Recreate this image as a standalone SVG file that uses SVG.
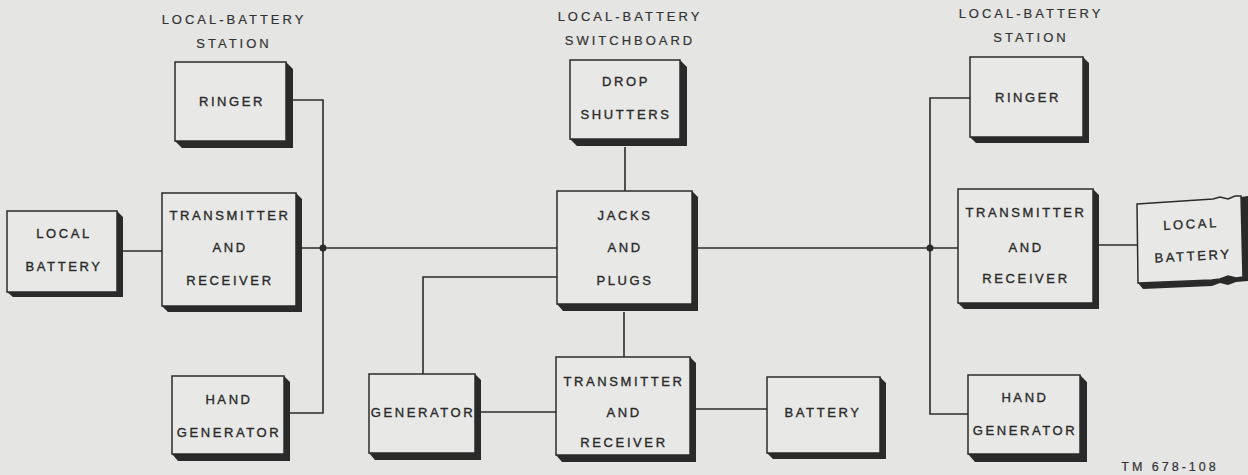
<svg xmlns="http://www.w3.org/2000/svg" width="1248" height="475" viewBox="0 0 1248 475">
<style>
.bg{fill:#e5e5e3}
.box{fill:#e8e8e6;stroke:#2b2b2b;stroke-width:1.5}
.sh{fill:#2a2a2a}
.t{font-family:"Liberation Sans",Arial,sans-serif;font-size:13px;letter-spacing:2.6px;fill:#2a2a2a;stroke:#2a2a2a;stroke-width:0.35px;text-anchor:middle;dominant-baseline:central}
.h{font-family:"Liberation Sans",Arial,sans-serif;font-size:13px;letter-spacing:3px;fill:#333;stroke:#333;stroke-width:0.2px;text-anchor:middle;dominant-baseline:central}
.w{fill:none;stroke:#2b2b2b;stroke-width:1.6}
</style>
<rect class="bg" x="0" y="0" width="1248" height="475"/>
<g id="titles">
<text class="h" x="234" y="19">LOCAL-BATTERY</text>
<text class="h" x="234" y="43">STATION</text>
<text class="h" x="630" y="16">LOCAL-BATTERY</text>
<text class="h" x="630" y="40">SWITCHBOARD</text>
<text class="h" x="1031" y="13">LOCAL-BATTERY</text>
<text class="h" x="1031" y="37">STATION</text>
<text class="h" x="1170" y="467" style="font-size:12.5px">TM 678-108</text>
</g>
<g id="connectors">
<path class="w" d="M123 251 H162"/>
<path class="w" d="M293 100 H323 V413 H290"/>
<path class="w" d="M302 248 H557"/>
<path class="w" d="M557 277 H423 V374"/>
<path class="w" d="M481 412 H556"/>
<path class="w" d="M696 409 H767"/>
<path class="w" d="M625 147 V191"/>
<path class="w" d="M624 312 V357"/>
<path class="w" d="M698 248 H958"/>
<path class="w" d="M970 98 H930 V414 H968"/>
<path class="w" d="M1098 245 H1137"/>
<circle cx="323" cy="248" r="3.5" fill="#2b2b2b"/>
<circle cx="930" cy="248" r="3.5" fill="#2b2b2b"/>
</g>
<g id="l-ringer">
<polygon class="sh" points="286,62 293,69 293,148 182,148 175,141 286,141"/>
<rect class="box" x="175" y="62" width="111" height="79"/>
<text class="t" x="232" y="101">RINGER</text>
</g>
<g id="l-transmitter">
<polygon class="sh" points="296,193 302,199 302,312 168,312 162,306 296,306"/>
<rect class="box" x="162" y="193" width="134" height="113"/>
<text class="t" x="230" y="215">TRANSMITTER</text>
<text class="t" x="230" y="247">AND</text>
<text class="t" x="230" y="280">RECEIVER</text>
</g>
<g id="l-battery">
<polygon class="sh" points="117,211 123,217 123,297 13,297 7,292 117,292"/>
<rect class="box" x="7" y="211" width="110" height="81"/>
<text class="t" x="64" y="233">LOCAL</text>
<text class="t" x="64" y="266">BATTERY</text>
</g>
<g id="l-handgen">
<polygon class="sh" points="284,376 290,382 290,461 178,461 172,454 284,454"/>
<rect class="box" x="172" y="376" width="112" height="78"/>
<text class="t" x="229" y="399">HAND</text>
<text class="t" x="229" y="432">GENERATOR</text>
</g>
<g id="c-drop">
<polygon class="sh" points="680,60 687,67 687,146 577,146 570,139 680,139"/>
<rect class="box" x="570" y="60" width="110" height="79"/>
<text class="t" x="626" y="81">DROP</text>
<text class="t" x="626" y="114">SHUTTERS</text>
</g>
<g id="c-jacks">
<polygon class="sh" points="692,191 698,197 698,311 563,311 557,304 692,304"/>
<rect class="box" x="557" y="191" width="135" height="113"/>
<text class="t" x="625" y="215">JACKS</text>
<text class="t" x="625" y="247">AND</text>
<text class="t" x="625" y="280">PLUGS</text>
</g>
<g id="c-generator">
<polygon class="sh" points="475,374 481,380 481,460 375,460 369,453 475,453"/>
<rect class="box" x="369" y="374" width="106" height="79"/>
<text class="t" x="423" y="412">GENERATOR</text>
</g>
<g id="c-transmitter">
<polygon class="sh" points="690,357 696,363 696,462 562,462 556,455 690,455"/>
<rect class="box" x="556" y="357" width="134" height="98"/>
<text class="t" x="624" y="381">TRANSMITTER</text>
<text class="t" x="624" y="412">AND</text>
<text class="t" x="624" y="442">RECEIVER</text>
</g>
<g id="c-battery">
<polygon class="sh" points="880,377 886,383 886,459 773,459 767,453 880,453"/>
<rect class="box" x="767" y="377" width="113" height="76"/>
<text class="t" x="823" y="412">BATTERY</text>
</g>
<g id="r-ringer">
<polygon class="sh" points="1083,57 1089,63 1089,143 976,143 970,137 1083,137"/>
<rect class="box" x="970" y="57" width="113" height="80"/>
<text class="t" x="1028" y="97">RINGER</text>
</g>
<g id="r-transmitter">
<polygon class="sh" points="1093,189 1099,195 1099,309 964,309 958,303 1093,303"/>
<rect class="box" x="958" y="189" width="135" height="114"/>
<text class="t" x="1026" y="212">TRANSMITTER</text>
<text class="t" x="1026" y="247">AND</text>
<text class="t" x="1026" y="278">RECEIVER</text>
</g>
<g id="r-localbattery">
<path class="sh" d="M1138 283 L1143 289 L1212 286 L1220 283 L1228 285 L1236 282 L1248 281 L1248 196 L1241 197 L1243 277 L1236 278 L1228 276 L1220 279 L1212 280 Z"/>
<path class="box" d="M1137 204 L1213 199 L1220 197 L1228 199 L1235 196 L1241 196 L1243 277 L1236 278 L1228 276 L1220 279 L1212 280 L1138 283 Z"/>
<text class="t" x="1191" y="224" transform="rotate(-3 1191 224)">LOCAL</text>
<text class="t" x="1193" y="256" transform="rotate(-3 1193 256)">BATTERY</text>
</g>
<g id="r-handgen">
<polygon class="sh" points="1080,375 1087,382 1087,462 975,462 968,454 1080,454"/>
<rect class="box" x="968" y="375" width="112" height="79"/>
<text class="t" x="1025" y="397">HAND</text>
<text class="t" x="1025" y="430">GENERATOR</text>
</g>
</svg>
